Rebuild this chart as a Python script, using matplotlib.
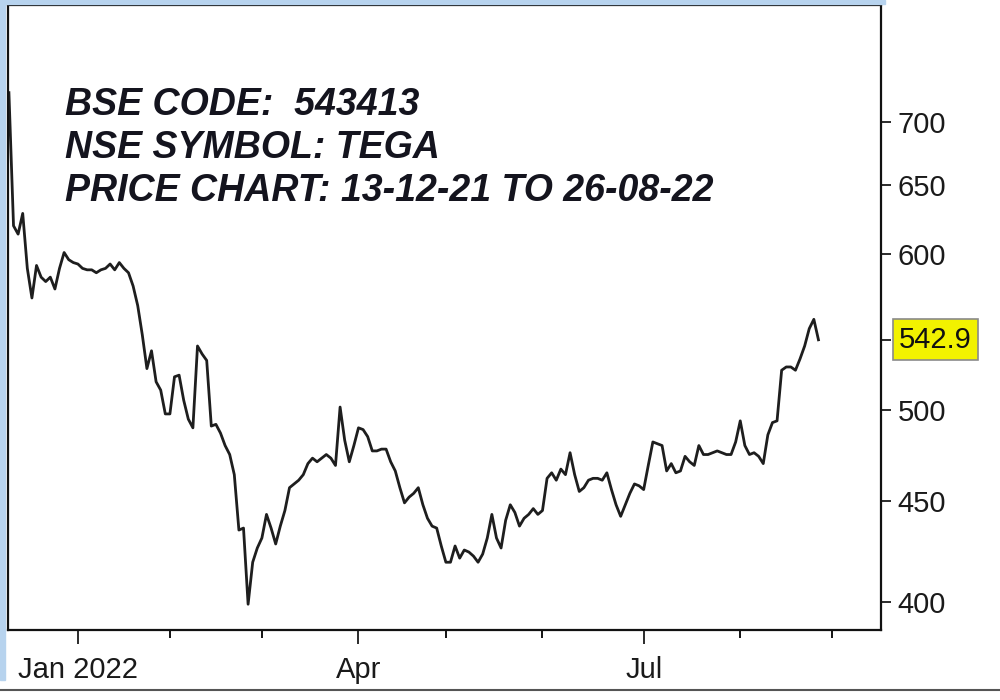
import numpy as np
import pandas as pd
import matplotlib
matplotlib.use("Agg")
import matplotlib.pyplot as plt
from matplotlib.patches import Rectangle
from matplotlib.lines import Line2D

# daily closes, 13-12-21 .. 26-08-22
prices = [724, 620, 614, 629, 590, 570, 592, 584, 581, 584,
          576, 590, 601, 596, 594, 593, 590, 589, 589, 587,
          589, 590, 593, 589, 594, 590, 587, 578, 565, 546,
          525, 536, 517, 512, 498, 498, 520, 521, 506, 495,
          490, 539, 534, 530, 491, 492, 487, 480, 475, 464,
          435, 436, 399, 419, 426, 431, 443, 436, 428, 437,
          445, 457, 459, 461, 464, 470, 473, 471, 473, 475,
          473, 469, 502, 483, 471, 480, 490, 489, 485, 477,
          477, 478, 478, 471, 466, 457, 449, 452, 454, 457,
          448, 441, 437, 436, 427, 419, 419, 427, 421, 425,
          424, 422, 419, 423, 431, 443, 431, 426, 440, 448,
          444, 437, 441, 443, 446, 443, 445, 462, 465, 461,
          467, 464, 476, 464, 455, 457, 461, 462, 462, 461,
          465, 456, 448, 442, 448, 454, 459, 458, 456, 469,
          482, 481, 480, 466, 470, 465, 466, 474, 471, 469,
          480, 475, 475, 476, 477, 476, 475, 475, 482, 494,
          480, 475, 476, 474, 470, 486, 493, 494, 524, 526,
          526, 524, 531, 539, 550, 556, 542.9]

holidays = ["2022-01-26", "2022-03-01", "2022-03-18", "2022-04-14", "2022-04-15",
            "2022-05-03", "2022-08-09", "2022-08-15", "2022-08-31"]
ytick_vals = [400, 450, 500, 600, 650, 700]
major_months = {1: "Jan 2022", 4: "Apr", 7: "Jul"}
last_price = prices[-1]

# trading calendar (index axis, no gaps)
days = pd.bdate_range("2021-12-13", "2022-09-30")
days = days[~days.isin(pd.to_datetime(holidays))]
x = np.arange(len(prices))

month_start = [i for i in range(1, len(days)) if days[i].month != days[i - 1].month]
major_pos = [i for i in month_start if days[i].month in major_months]
major_lab = [major_months[days[i].month] for i in major_pos]
minor_pos = [i for i in month_start if days[i].month not in major_months]

plt.rcParams["font.family"] = ["Liberation Sans", "DejaVu Sans"]

fig = plt.figure(figsize=(10, 7), dpi=100)
ax = fig.add_axes([0.008, 0.1, 0.873, 0.893])

ax.plot(x, prices, color="#1e1e1e", lw=2.0)

ax.set_yscale("log")
ax.set_ylim(387.2, 801.9)
ax.set_xlim(-0.2, 189.6)

ax.yaxis.tick_right()
ax.set_yticks(ytick_vals + [last_price])
ax.set_yticklabels([str(v) for v in ytick_vals] + [""])
ax.yaxis.set_minor_locator(matplotlib.ticker.NullLocator())
ax.tick_params(axis="y", which="major", direction="out", length=7, width=1.3,
               pad=5, labelsize=21, colors="#1a1a1a")

ax.set_xticks(major_pos)
ax.set_xticklabels(major_lab)
ax.set_xticks(minor_pos, minor=True)
ax.tick_params(axis="x", which="major", direction="out", length=10, width=1.3,
               pad=9, labelsize=21, colors="#1a1a1a")
ax.tick_params(axis="x", which="minor", direction="out", length=6, width=1.3)

for s in ax.spines.values():
    s.set_linewidth(1.6)
    s.set_color("#111111")

# last price tag
ax.annotate(f"{last_price:.1f}", xy=(1.0, last_price), xycoords=("axes fraction", "data"),
            xytext=(13, 0), textcoords="offset points", ha="left", va="center",
            fontsize=21, color="#111111",
            bbox=dict(boxstyle="square,pad=0.22", fc="#f2f200", ec="#8a8a8a", lw=1.2))

# header text
lines = ["BSE CODE:  543413", "NSE SYMBOL: TEGA", "PRICE CHART: 13-12-21 TO 26-08-22"]
for k, t in enumerate(lines):
    fig.text(0.065, 1 - (115 + 43 * k) / 700, t, fontsize=27, fontweight="bold",
             fontstyle="italic", color="#14141e", va="baseline", ha="left")

# light blue frame bits and lower pane edge
fig.patches.append(Rectangle((0, 20 / 700), 0.005, 680 / 700, transform=fig.transFigure,
                             color="#b7d3ee", zorder=0))
fig.patches.append(Rectangle((0, 1 - 4 / 700), 0.885, 4 / 700, transform=fig.transFigure,
                             color="#b7d3ee", zorder=0))
fig.add_artist(Line2D([0, 1], [10 / 700, 10 / 700], color="#555555", lw=1.5))

fig.savefig("out.png", dpi=100, facecolor="white")
